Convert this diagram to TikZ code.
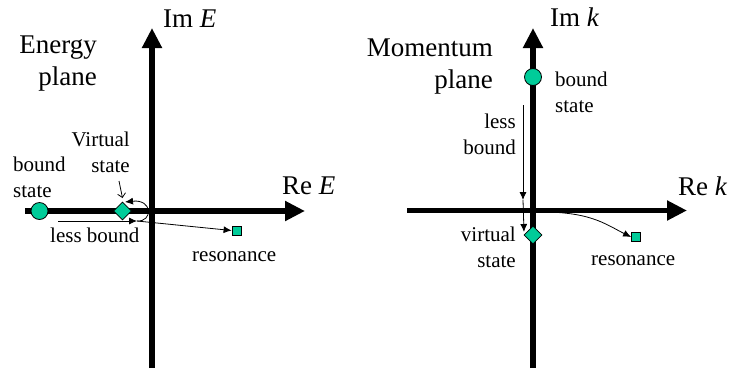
\documentclass[tikz,border=0pt]{standalone}
\usepackage{fontspec}
\setmainfont{Liberation Serif}
\usetikzlibrary{arrows.meta,shapes.geometric}
\definecolor{poleteal}{HTML}{00CC99}
\begin{document}
\begin{tikzpicture}[x=1pt,y=-1pt,
  axis/.style={line width=5.5pt,-{Triangle[length=20pt,width=19pt]}},
  conn/.style={line width=0.8pt},
  arr/.style={conn,-{Latex[length=8pt,width=7pt]}},
  ptr/.style={conn,-{Straight Barb[length=4pt,width=8pt]}},
  big/.style={font=\fontsize{27}{31.5}\selectfont, inner sep=0pt},
  small/.style={font=\fontsize{21}{25.5}\selectfont, inner sep=0pt},
  boundpt/.style={circle,draw,fill=poleteal,minimum size=17pt,inner sep=0pt,line width=0.8pt},
  virtpt/.style={diamond,draw,fill=poleteal,minimum size=18pt,inner sep=0pt,line width=0.8pt},
  respt/.style={rectangle,draw,fill=poleteal,minimum size=9pt,inner sep=0pt,line width=0.8pt}]
\useasboundingbox (0,0) rectangle (730,368);

% ---------- Energy plane ----------
\coordinate (ey0) at (152,368);
\coordinate (ey1) at (152,28);
\coordinate (ex0) at (25,211);
\coordinate (ex1) at (305,211);
\draw[axis] (ey0) -- (ey1);
\draw[axis] (ex0) -- (ex1);

\node[big,anchor=base west] (imE) at (163,27) {Im \textit{E}};
\node[big,anchor=base west] (reE) at (282,194) {Re \textit{E}};
\node[big,align=right,anchor=base east] (eplane) at (97,85) {Energy\\plane};

\node[boundpt] (b1) at (39.5,211) {};
\node[virtpt] (v1) at (122.5,211) {};
\node[respt] (r1) at (236.5,230.5) {};

\node[small,align=left,anchor=base west] (b1lab) at (13,197) {bound\\state};
\node[small,align=right,anchor=base east] (v1lab) at (130,172) {Virtual\\state};
\node[small,anchor=base west] (lb1lab) at (50,242) {less bound};
\node[small,anchor=base west] (r1lab) at (192,261) {resonance};

\coordinate (p1s) at (119,181);
\coordinate (p1e) at (122.5,198);
\draw[ptr] (p1s) -- (p1e);

\coordinate (lb1s) at (58,221);
\coordinate (lb1e) at (137,221);
\coordinate (lp1e) at (125,202);
\draw[arr] (lb1s) -- (lb1e);
\draw[arr] (lb1e) .. controls (153,222) and (153,199) .. (lp1e);
\draw[arr] (lb1e) -- (r1.west);

% ---------- Momentum plane ----------
\coordinate (ky0) at (533,368);
\coordinate (ky1) at (533,28);
\coordinate (kx0) at (407,210.5);
\coordinate (kx1) at (687,210.5);
\draw[axis] (ky0) -- (ky1);
\draw[axis] (kx0) -- (kx1);

\node[big,anchor=base west] (imk) at (550,26) {Im \textit{k}};
\node[big,anchor=base west] (rek) at (678,195) {Re \textit{k}};
\node[big,align=right,anchor=base east] (kplane) at (493,88) {Momentum\\plane};

\node[boundpt] (b2) at (533,77) {};
\node[virtpt] (v2) at (533,235) {};
\node[respt] (r2) at (636,237) {};

\node[small,align=left,anchor=base west] (b2lab) at (555,112) {bound\\state};
\node[small,align=right,anchor=base east] (lb2lab) at (516,154) {less\\bound};
\node[small,align=right,anchor=base east] (v2lab) at (516,267) {virtual\\state};
\node[small,anchor=base west] (r2lab) at (591,265) {resonance};

\coordinate (lb2s) at (523,105);
\coordinate (lb2m) at (523,200);
\coordinate (lb2e) at (524,232);
\draw[arr] (lb2s) -- (lb2m);
\draw[arr] (lb2m) -- (lb2e);

\coordinate (c2s) at (535,212);
\draw[arr] (c2s) .. controls (590,211) and (605,224) .. (r2.west);
\end{tikzpicture}
\end{document}
